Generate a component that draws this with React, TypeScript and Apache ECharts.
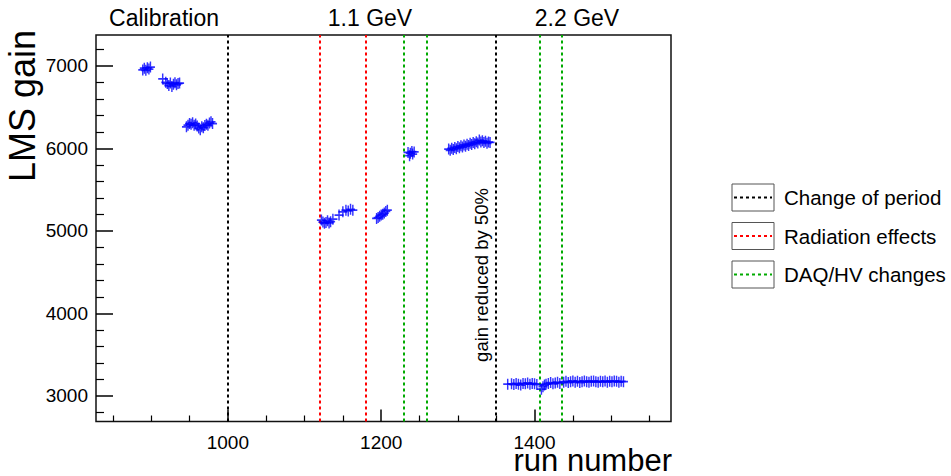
import React, { useEffect, useRef } from "react";
import * as echarts from "echarts";

// ---- axis ranges & ticks ----
const xMin = 828;
const xMax = 1578;
const yMin = 2688;
const yMax = 7373;
const xMajorTicks = [1000, 1200, 1400];
const xMinorTicks = [850, 900, 950, 1050, 1100, 1150, 1250, 1300, 1350, 1450, 1500, 1550];
const yMajorTicks = [3000, 4000, 5000, 6000, 7000];
const yMinorTicks = [2800, 3200, 3400, 3600, 3800, 4200, 4400, 4600, 4800, 5200, 5400, 5600, 5800, 6200, 6400, 6600, 6800, 7200];

// ---- data (run number, LMS gain) ----
const calibRunsA = [889, 891, 893, 895, 897, 899];
const calibGainsA = [6950, 6970, 6945, 6975, 6960, 6985];

const calibRunsB = [915, 919, 921, 923, 925, 927, 929, 931, 933, 935, 937];
const calibGainsB = [6840, 6800, 6785, 6760, 6790, 6750, 6775, 6795, 6770, 6785, 6790];

const calibRunsC = [946, 948, 950, 952, 954, 956, 958, 960, 962, 964, 966, 968, 970, 972, 974, 976, 978, 980];
const calibGainsC = [6260, 6280, 6300, 6290, 6310, 6280, 6295, 6270, 6245, 6225, 6260, 6250, 6275, 6290, 6280, 6305, 6320, 6300];

const lowRunsD = [1122, 1124, 1126, 1128, 1130, 1132, 1134, 1137, 1145, 1150, 1154, 1157, 1160, 1163];
const lowGainsD = [5130, 5105, 5090, 5100, 5120, 5095, 5110, 5140, 5190, 5230, 5250, 5240, 5260, 5250];

const lowRunsE = [1194, 1196, 1198, 1200, 1202, 1204, 1206, 1208];
const lowGainsE = [5150, 5160, 5175, 5190, 5200, 5215, 5235, 5250];

const lowRunsF = [1235, 1237, 1238, 1240, 1241, 1243];
const lowGainsF = [5950, 5910, 5940, 5960, 5930, 5955];

const lowRunsG = [1288, 1290, 1292, 1294, 1296, 1298, 1300, 1302, 1304, 1306, 1308, 1310, 1312, 1314, 1316, 1318, 1320, 1322, 1324, 1326, 1328, 1330, 1332, 1334, 1336, 1338, 1340, 1342];
const lowGainsG = [5990, 5975, 6000, 5985, 6010, 5995, 6020, 6005, 6030, 6015, 6040, 6025, 6050, 6035, 6060, 6045, 6070, 6055, 6080, 6065, 6100, 6075, 6090, 6070, 6085, 6060, 6075, 6070];

const highRunsH1 = [1365, 1370, 1373, 1376, 1379, 1382, 1385, 1388, 1391, 1394, 1397, 1400, 1403];
const highGainsH1 = [3140, 3145, 3135, 3150, 3140, 3130, 3150, 3145, 3155, 3140, 3150, 3145, 3135];

const highRunsH2 = [1409, 1411, 1413, 1415, 1418, 1421, 1424, 1427, 1430, 1433];
const highGainsH2 = [3080, 3110, 3130, 3140, 3150, 3160, 3145, 3155, 3165, 3150];

const highRunsH3 = [1438, 1441, 1444, 1447, 1450, 1453, 1456, 1459, 1462, 1465, 1468, 1471, 1474, 1477, 1480, 1483, 1486, 1489, 1492, 1495, 1498, 1501, 1504, 1507, 1510, 1513, 1516];
const highGainsH3 = [3165, 3175, 3160, 3170, 3180, 3165, 3175, 3160, 3170, 3180, 3170, 3165, 3175, 3180, 3170, 3165, 3175, 3170, 3180, 3165, 3175, 3170, 3180, 3175, 3165, 3175, 3170];

// ---- vertical marker lines ----
const periodChangeRuns = [1000, 1350];
const radiationRuns = [1120, 1180];
const daqRuns = [1230, 1260, 1407, 1435];

// ---- texts ----
const periodLabels = ["Calibration", "1.1 GeV", "2.2 GeV"];
const legendLabels = ["Change of period", "Radiation effects", "DAQ/HV changes"];
const legendColors = ["#000000", "#ff0000", "#00aa00"];
const noteText = "gain reduced by 50%";

const FONT = "'Liberation Sans', Arial, Helvetica, sans-serif";

function pairs(xs: number[], ys: number[]) {
  return xs.map((x, i) => [x, ys[i]]);
}

export default function App() {
  const ref = useRef<HTMLDivElement>(null);

  useEffect(() => {
    if (!ref.current) return;
    const chart = echarts.init(ref.current, null, { renderer: "svg" });

    const points = [
      ...pairs(calibRunsA, calibGainsA),
      ...pairs(calibRunsB, calibGainsB),
      ...pairs(calibRunsC, calibGainsC),
      ...pairs(lowRunsD, lowGainsD),
      ...pairs(lowRunsE, lowGainsE),
      ...pairs(lowRunsF, lowGainsF),
      ...pairs(lowRunsG, lowGainsG),
      ...pairs(highRunsH1, highGainsH1),
      ...pairs(highRunsH2, highGainsH2),
      ...pairs(highRunsH3, highGainsH3),
    ];

    const vline = (x: number, color: string) => ({
      xAxis: x,
      lineStyle: { color, type: [3, 3], width: 2 },
    });

    const markData = [
      ...periodChangeRuns.map((x) => vline(x, legendColors[0])),
      ...radiationRuns.map((x) => vline(x, legendColors[1])),
      ...daqRuns.map((x) => vline(x, legendColors[2])),
    ];

    const legendGraphics: any[] = [];
    legendLabels.forEach((label, i) => {
      const top = 184 + i * 38.5;
      const cy = top + 13.5;
      legendGraphics.push({
        type: "rect",
        shape: { x: 732, y: top, width: 42, height: 27 },
        style: { fill: "#fff", stroke: "#555", lineWidth: 1 },
      });
      legendGraphics.push({
        type: "line",
        shape: { x1: 734, y1: cy, x2: 772, y2: cy },
        style: { stroke: legendColors[i], lineWidth: 2, lineDash: [3, 3] },
      });
      legendGraphics.push({
        type: "text",
        x: 784,
        y: cy,
        style: {
          text: label,
          fontSize: 20.5,
          fontFamily: FONT,
          fill: "#000",
          textAlign: "left",
          textVerticalAlign: "middle",
          align: "left",
          verticalAlign: "middle",
        },
      });
    });

    const periodX = [164, 370, 577];
    const topGraphics = periodLabels.map((t, i) => ({
      type: "text",
      x: periodX[i],
      y: 18,
      style: {
        text: t,
        fontSize: 23,
        fontFamily: FONT,
        fill: "#000",
        textAlign: "center",
        textVerticalAlign: "middle",
        align: "center",
        verticalAlign: "middle",
      },
    }));

    const plain = (v: number) => String(v);

    const option: any = {
      animation: false,
      backgroundColor: "#fff",
      textStyle: { fontFamily: FONT },
      grid: {
        left: 96,
        top: 35,
        right: 280,
        bottom: 54.5,
        show: true,
        borderColor: "#111",
        borderWidth: 1.5,
        backgroundColor: "transparent",
      },
      xAxis: [
        {
          type: "value",
          min: xMin,
          max: xMax,
          axisLine: { show: false },
          splitLine: { show: false },
          axisTick: {
            show: true,
            inside: true,
            length: 12,
            lineStyle: { color: "#000", width: 1.5 },
            customValues: xMajorTicks,
          },
          axisLabel: {
            show: true,
            customValues: xMajorTicks,
            formatter: plain,
            fontSize: 19,
            color: "#000",
            margin: 11,
            fontFamily: FONT,
          },
        },
        {
          type: "value",
          min: xMin,
          max: xMax,
          position: "bottom",
          axisLine: { show: false },
          splitLine: { show: false },
          axisTick: {
            show: true,
            inside: true,
            length: 6,
            lineStyle: { color: "#000", width: 1.2 },
            customValues: xMinorTicks,
          },
          axisLabel: { show: false },
        },
      ],
      yAxis: [
        {
          type: "value",
          min: yMin,
          max: yMax,
          axisLine: { show: false },
          splitLine: { show: false },
          axisTick: {
            show: true,
            inside: true,
            length: 17,
            lineStyle: { color: "#000", width: 1.5 },
            customValues: yMajorTicks,
          },
          axisLabel: {
            show: true,
            customValues: yMajorTicks,
            formatter: plain,
            fontSize: 19,
            color: "#000",
            margin: 8,
            fontFamily: FONT,
          },
        },
        {
          type: "value",
          min: yMin,
          max: yMax,
          position: "left",
          axisLine: { show: false },
          splitLine: { show: false },
          axisTick: {
            show: true,
            inside: true,
            length: 8,
            lineStyle: { color: "#000", width: 1.2 },
            customValues: yMinorTicks,
          },
          axisLabel: { show: false },
        },
      ],
      series: [
        {
          type: "scatter",
          xAxisIndex: 0,
          yAxisIndex: 0,
          data: points,
          symbol: "path://M0,4.2h10v1.6h-10z M4.2,0h1.6v10h-1.6z",
          symbolSize: [9, 11],
          itemStyle: { color: "#0000ff" },
          silent: true,
          markLine: {
            silent: true,
            symbol: ["none", "none"],
            label: { show: false },
            data: markData,
          },
          z: 5,
        },
      ],
      graphic: [
        ...topGraphics,
        ...legendGraphics,
        {
          type: "text",
          x: 481,
          y: 275,
          rotation: Math.PI / 2,
          style: {
            text: noteText,
            fontSize: 18.5,
            fontFamily: FONT,
            fill: "#000",
            textAlign: "center",
            textVerticalAlign: "middle",
            align: "center",
            verticalAlign: "middle",
          },
        },
        {
          type: "text",
          x: 22,
          y: 30,
          rotation: Math.PI / 2,
          style: {
            text: "LMS gain",
            fontSize: 36,
            fontFamily: FONT,
            fill: "#000",
            textAlign: "right",
            textVerticalAlign: "middle",
            align: "right",
            verticalAlign: "middle",
          },
        },
        {
          type: "text",
          x: 672,
          y: 460,
          style: {
            text: "run number",
            fontSize: 31,
            fontFamily: FONT,
            fill: "#000",
            textAlign: "right",
            textVerticalAlign: "middle",
            align: "right",
            verticalAlign: "middle",
          },
        },
      ],
    };

    chart.setOption(option);
    return () => chart.dispose();
  }, []);

  return (
    <div
      ref={ref}
      style={{ position: "fixed", left: 0, top: 0, width: 951, height: 476, background: "#fff" }}
    />
  );
}
